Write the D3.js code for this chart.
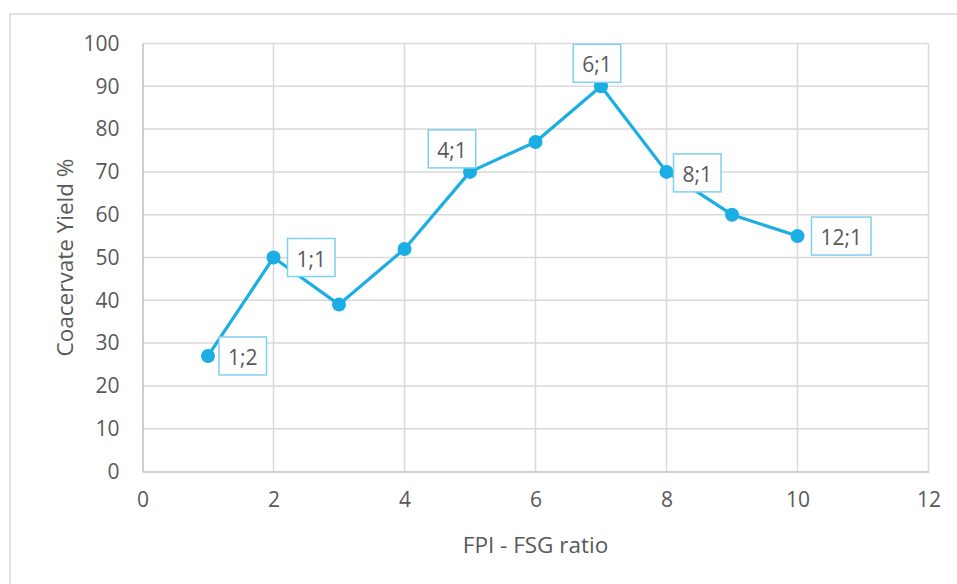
<!DOCTYPE html>
<html>
<head>
<meta charset="utf-8">
<script src="https://cdn.jsdelivr.net/npm/d3@7"></script>
<style>
  body { margin: 0; background: #fff; }
  #chart { width: 957px; height: 584px; }
  text { font-family: "Open Sans", Lato, sans-serif; fill: #595959; }
</style>
</head>
<body>
<div id="chart"></div>
<script>
// values
const ratioX = [1, 2, 3, 4, 5, 6, 7, 8, 9, 10];
const yieldPct = [27, 50, 39, 52, 70, 77, 90, 70, 60, 55];
const pointLabels = ['1;2', '1;1', '', '', '4;1', '', '6;1', '8;1', '', '12;1'];
const xTicks = [0, 2, 4, 6, 8, 10, 12];
const yTicks = [0, 10, 20, 30, 40, 50, 60, 70, 80, 90, 100];

// label box placement: 'right' or 'above', plus a nudge
const labelPlace = {
  '1;2': { pos: 'right', dx: 11, dy: 0 },
  '1;1': { pos: 'right', dx: 14, dy: 0 },
  '4;1': { pos: 'above', dx: -18, dy: -4 },
  '6;1': { pos: 'above', dx: -4, dy: -4 },
  '8;1': { pos: 'right', dx: 7, dy: 1 },
  '12;1': { pos: 'right', dx: 14, dy: 0 },
};

const width = 957;
const height = 584;
const margin = { top: 43.5, right: 28, bottom: 112.5, left: 142.5 };
const font = '"Open Sans", Lato, sans-serif';

const svg = d3.select('#chart')
  .append('svg')
  .attr('width', width)
  .attr('height', height);

// outer chart frame
svg.append('rect')
  .attr('x', 10).attr('y', 14)
  .attr('width', 960).attr('height', 600)
  .attr('fill', 'none')
  .attr('stroke', '#d9d9d9')
  .attr('stroke-width', 1.5);

const xScale = d3.scaleLinear()
  .domain([0, 12])
  .range([margin.left, width - margin.right - 0.5]);

const yScale = d3.scaleLinear()
  .domain([0, 100])
  .range([height - margin.bottom, margin.top]);

// grid
svg.append('g')
  .selectAll('line')
  .data(yTicks.slice(1))
  .enter()
  .append('line')
  .attr('x1', xScale(0)).attr('x2', xScale(12))
  .attr('y1', d => yScale(d)).attr('y2', d => yScale(d))
  .attr('stroke', '#d9d9d9').attr('stroke-width', 1.5);

svg.append('g')
  .selectAll('line')
  .data(xTicks.slice(1))
  .enter()
  .append('line')
  .attr('x1', d => xScale(d)).attr('x2', d => xScale(d))
  .attr('y1', yScale(0)).attr('y2', yScale(100))
  .attr('stroke', '#d9d9d9').attr('stroke-width', 1.5);

// axes
const xAxis = d3.axisBottom(xScale).tickValues(xTicks).tickSize(0).tickPadding(21);
const yAxis = d3.axisLeft(yScale).tickValues(yTicks).tickSize(0).tickPadding(23);

svg.append('g')
  .attr('class', 'x axis')
  .attr('transform', `translate(0, ${yScale(0)})`)
  .call(xAxis)
  .call(g => g.select('.domain').attr('stroke', '#bfbfbf').attr('stroke-width', 1.5))
  .call(g => g.selectAll('text').attr('font-size', 21).attr('fill', '#595959')
    .style('font-family', font));

svg.append('g')
  .attr('class', 'y axis')
  .attr('transform', `translate(${xScale(0)}, 0)`)
  .call(yAxis)
  .call(g => g.select('.domain').attr('stroke', '#bfbfbf').attr('stroke-width', 1.5))
  .call(g => g.selectAll('text').attr('font-size', 21).attr('fill', '#595959')
    .style('font-family', font));

// axis titles
svg.append('text')
  .attr('x', (xScale(0) + xScale(12)) / 2)
  .attr('y', 553)
  .attr('text-anchor', 'middle')
  .attr('font-size', 22.5)
  .text('FPI - FSG ratio');

svg.append('text')
  .attr('transform', `translate(73, ${yScale(50)}) rotate(-90)`)
  .attr('text-anchor', 'middle')
  .attr('font-size', 22.5)
  .text('Coacervate Yield %');

// series
const data = ratioX.map((x, i) => ({ x, y: yieldPct[i], label: pointLabels[i] }));

const line = d3.line()
  .x(d => xScale(d.x))
  .y(d => yScale(d.y));

svg.append('path')
  .datum(data)
  .attr('d', line)
  .attr('fill', 'none')
  .attr('stroke', '#1aaee5')
  .attr('stroke-width', 3.2)
  .attr('stroke-linejoin', 'round');

svg.append('g')
  .selectAll('circle')
  .data(data)
  .enter()
  .append('circle')
  .attr('cx', d => xScale(d.x))
  .attr('cy', d => yScale(d.y))
  .attr('r', 7)
  .attr('fill', '#1aaee5');

// data labels
const labelG = svg.append('g');
data.filter(d => d.label).forEach(d => {
  const p = labelPlace[d.label];
  const px = xScale(d.x);
  const py = yScale(d.y);
  const g = labelG.append('g');
  const t = g.append('text')
    .attr('font-size', 21)
    .attr('fill', '#404040')
    .attr('text-anchor', 'middle')
    .attr('dominant-baseline', 'central')
    .text(d.label);
  const w = t.node().getComputedTextLength() + 18;
  const h = 38;
  let cx, cy;
  if (p.pos === 'right') {
    cx = px + p.dx + w / 2;
    cy = py + p.dy;
  } else {
    cx = px + p.dx;
    cy = py + p.dy - h / 2;
  }
  g.insert('rect', 'text')
    .attr('x', cx - w / 2).attr('y', cy - h / 2)
    .attr('width', w).attr('height', h)
    .attr('fill', '#fff')
    .attr('stroke', '#7fd0f0')
    .attr('stroke-width', 1.5);
  t.attr('x', cx).attr('y', cy + 1);
});
</script>
</body>
</html>
